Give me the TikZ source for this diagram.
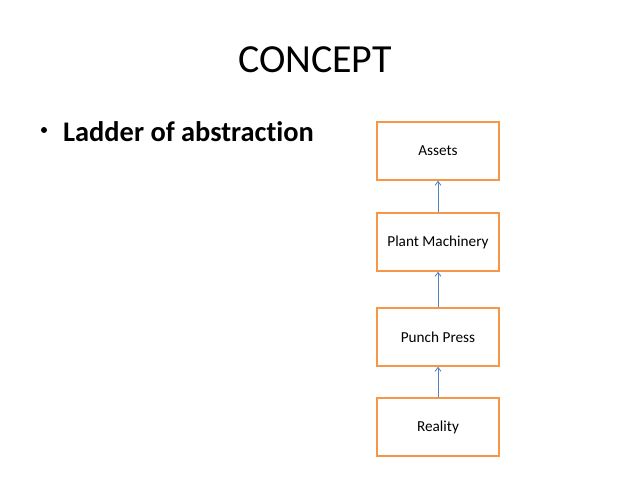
\documentclass[tikz,border=0pt]{standalone}
\usepackage{fontspec}
\setmainfont[Ligatures=CommonOff]{Carlito}
\usetikzlibrary{arrows.meta}
\definecolor{scalaarancio}{HTML}{F79646}
\definecolor{scalablu}{HTML}{4F81BD}
\definecolor{scalatesto}{HTML}{000000}
\newlength{\larghezza}
\setlength{\larghezza}{638bp}
\newlength{\altezza}
\setlength{\altezza}{479bp}

\begin{document}
\begin{tikzpicture}[x=1bp,y=1bp,
  gradino/.style={draw=scalaarancio, line width=1.5bp, fill=white,
    minimum width=122bp, minimum height=58bp, inner sep=0pt,
    text=scalatesto, font=\fontsize{15.3}{18}\selectfont},
  salita/.style={draw=scalablu, line width=0.8bp, -{Straight Barb[length=4bp,width=6bp]}}]

  % ---- Sfondo ------------------------------------------------------------
  \fill[white] (0,0) rectangle (\larghezza,\altezza);

  % ---- Titolo ------------------------------------------------------------
  \node[anchor=base, inner sep=0pt, text=scalatesto, font=\fontsize{40}{48}\selectfont]
    (titolo) at (315,406) {CONCEPT};

  % ---- Punto elenco ------------------------------------------------------
  \fill[scalatesto] (44,349) circle (3bp);
  \node[anchor=base west, inner sep=0pt, text=scalatesto, font=\bfseries\fontsize{28.5}{34}\selectfont]
    (voce) at (63,338) {Ladder of abstraction};

  % ---- I quattro gradini, dal basso verso l'alto ---------------------------
  \node[gradino] (realta)   at (438,52)  {Reality};
  \node[gradino] (pressa)   at (438,142) {Punch Press};
  \node[gradino] (impianto) at (438,237) {Plant Machinery};
  \node[gradino] (beni)     at (438,328) {Assets};

  % Frecce tra un gradino e il successivo
  \draw[salita] (realta)   -- (pressa);
  \draw[salita] (pressa)   -- (impianto);
  \draw[salita] (impianto) -- (beni);

\end{tikzpicture}
\end{document}
